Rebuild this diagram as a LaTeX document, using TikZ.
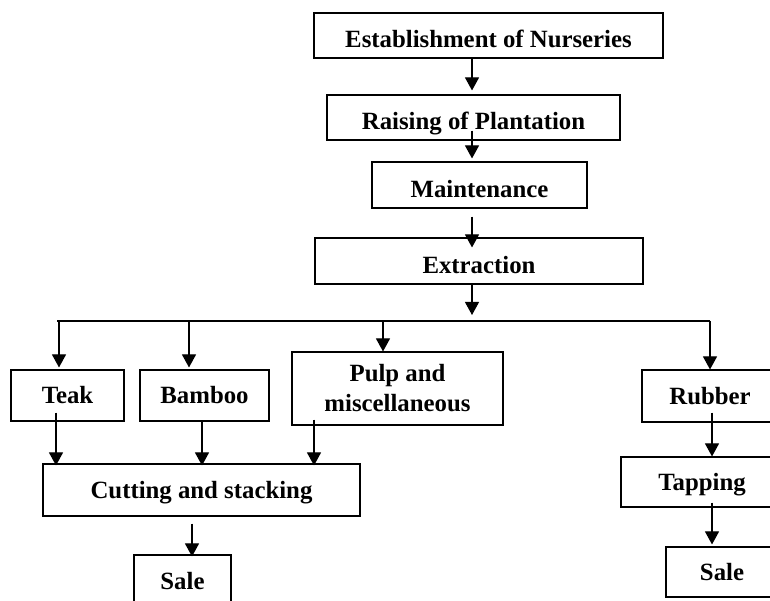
\documentclass[tikz,border=0pt]{standalone}
\usepackage{fontspec}
\setmainfont{Liberation Serif}
\usepackage{tikz}
\usetikzlibrary{calc,arrows.meta}

\tikzset{
  stage/.style={draw,line width=1.1pt,inner sep=0pt,align=center,
    font=\bfseries\fontsize{24.8}{30}\selectfont},
  oneline/.style={stage,text height=17pt,text depth=0pt},
  lowline/.style={stage,text height=24.5pt,text depth=0pt},
  flow/.style={-{Triangle[width=14pt,length=13pt]},line width=1.1pt}
}

\begin{document}
\begin{tikzpicture}[x=1pt,y=1pt]
        \path[use as bounding box,clip] (0,0) rectangle (770,601);
        \node[lowline,minimum width=349,minimum height=45] (est) at (488.5,565.5) {Establishment of Nurseries};
        \node[lowline,minimum width=293,minimum height=45] (rais) at (473.5,483.5) {Raising of Plantation};
        \node[lowline,minimum width=215,minimum height=46] (maint) at (479.5,416) {Maintenance};
        \node[lowline,minimum width=328,minimum height=46] (extr) at (479,340) {Extraction};
        \node[oneline,minimum width=113,minimum height=51] (teak) at (67.5,205.5) {Teak};
        \node[oneline,minimum width=129,minimum height=51] (bamboo) at (204.5,205.5) {Bamboo};
        \node[stage,minimum width=211,minimum height=73] (pulp) at (397.5,212.5) {Pulp and\\miscellaneous};
        \node[oneline,minimum width=136,minimum height=52] (rubber) at (710,205) {Rubber};
        \node[oneline,minimum width=317,minimum height=52] (cut) at (201.5,111) {Cutting and stacking};
        \node[oneline,minimum width=97,minimum height=52] (sale) at (182.5,20) {Sale};
        \node[oneline,minimum width=162,minimum height=50] (tap) at (702,119) {Tapping};
        \node[oneline,minimum width=112,minimum height=50] (rsale) at (722,29) {Sale};
        \coordinate (busL) at (57,280);
        \coordinate (busR) at (710,280);
        \draw[flow] ($(est.south)+(-16.5,0)$) -- ($(rais.north)+(-1.5,4)$);
        \draw[flow] ($(rais.south)+(-1.5,10)$) -- ($(maint.north)+(-7.5,3)$);
        \draw[flow] ($(maint.south)+(-7.5,-8)$) -- ($(extr.north)+(-7,-10)$);
        \draw[flow] ($(extr.south)+(-7,0)$) -- ($(extr.south |- busL)+(-7,6)$);
        \draw[line width=1.1pt] (busL) -- (busR);
        \draw[flow] ($(teak.north |- busL)+(-8.5,0)$) -- ($(teak.north)+(-8.5,2)$);
        \draw[flow] ($(bamboo.north |- busL)+(-15.5,0)$) -- ($(bamboo.north)+(-15.5,2)$);
        \draw[flow] ($(pulp.north |- busL)+(-14.5,0)$) -- ($(pulp.north)+(-14.5,0)$);
        \draw[flow] (busR) -- (rubber.north);
        \draw[flow] ($(teak.south)+(-11.5,9)$) -- ($(teak.south |- cut.north)+(-11.5,-2)$);
        \draw[flow] ($(bamboo.south)+(-2.5,0)$) -- ($(bamboo.south |- cut.north)+(-2.5,-2)$);
        \draw[flow] ($(pulp.south)+(-83.5,6)$) -- ($(pulp.south |- cut.north)+(-83.5,-2)$);
        \draw[flow] ($(cut.south)+(-9.5,-7)$) -- ($(sale.north)+(9.5,-2)$);
        \draw[flow] ($(rubber.south)+(2,10)$) -- ($(rubber.south |- tap.north)+(2,0)$);
        \draw[flow] ($(tap.south)+(10,5)$) -- ($(tap.south |- rsale.north)+(10,2)$);
      \end{tikzpicture}
\end{document}
